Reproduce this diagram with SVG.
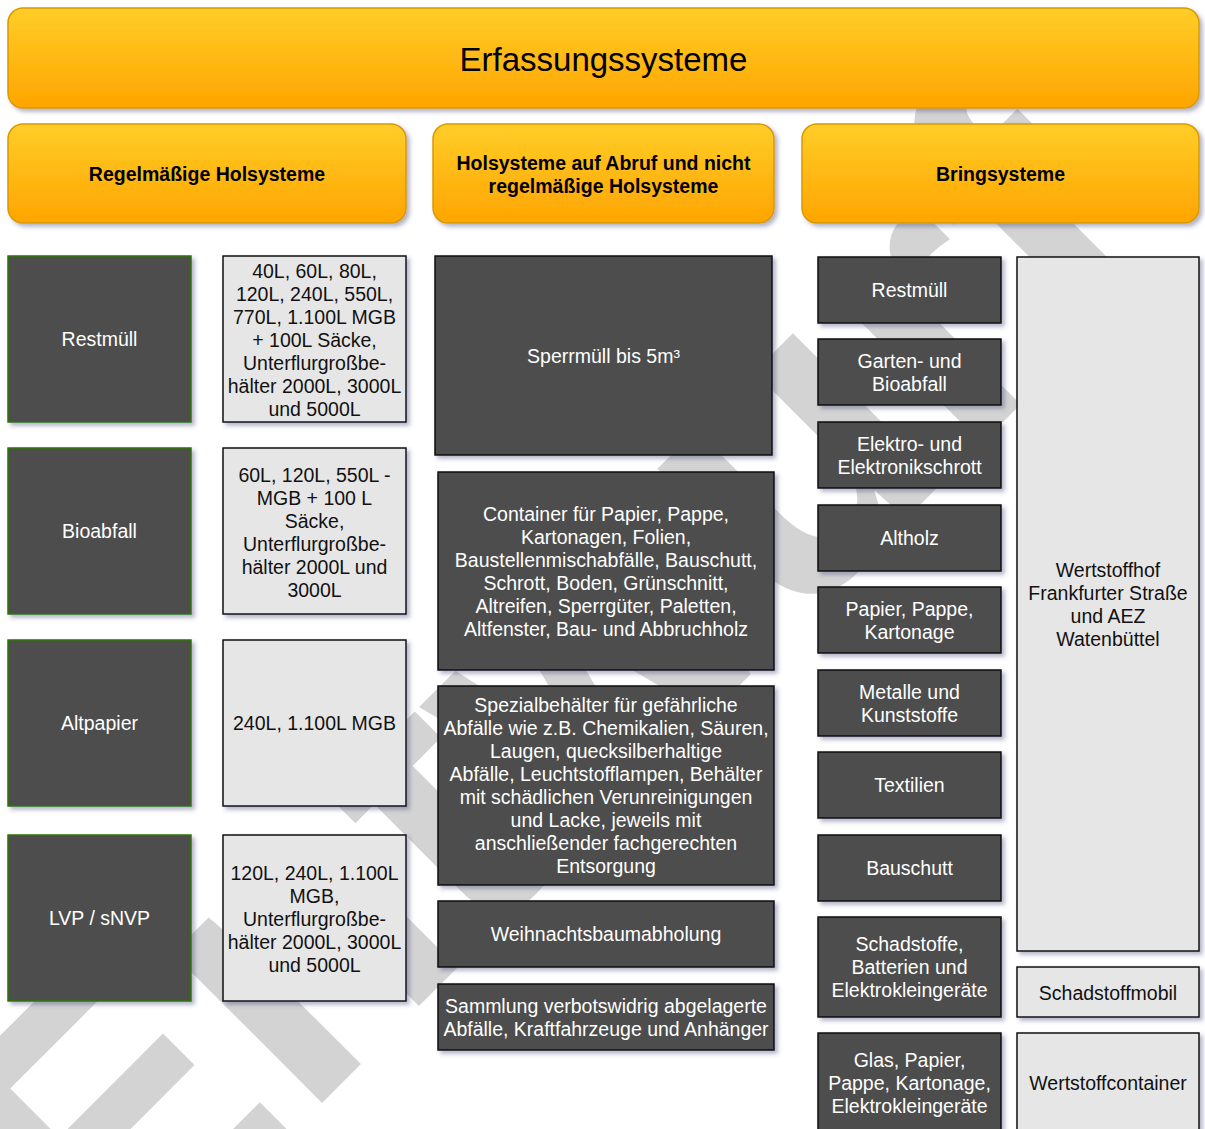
<svg xmlns="http://www.w3.org/2000/svg" width="1205" height="1129" viewBox="0 0 1205 1129">
<defs>
<linearGradient id="og" x1="0" y1="0" x2="0" y2="1">
<stop offset="0" stop-color="#ffcd28"/>
<stop offset="1" stop-color="#ffa500"/>
</linearGradient>
<filter id="sh" x="-10%" y="-10%" width="130%" height="130%">
<feDropShadow dx="3" dy="3" stdDeviation="2" flood-color="#3d4574" flood-opacity="0.4"/>
</filter>
</defs>
<style>
text{font-family:"Liberation Sans",Arial,Helvetica,sans-serif;font-size:19.5px;text-anchor:middle}
.hdr rect{fill:url(#og);stroke:#d79b00;stroke-width:1.5;filter:url(#sh)}
.hdr text{font-weight:bold;fill:#000}
.dg rect{fill:#4d4d4d;stroke:#2d7600;stroke-width:1.5;filter:url(#sh)}
.dk rect{fill:#4d4d4d;stroke:#111;stroke-width:1.5;filter:url(#sh)}
.dg text,.dk text{fill:#fff}
.lt rect{fill:#e6e6e6;stroke:#111;stroke-width:1.5;filter:url(#sh)}
.lt text{fill:#111}
.wm{font-family:"Liberation Sans",Arial,sans-serif;font-weight:bold;font-size:400px;fill:#d3d3d3;text-anchor:middle}
</style>
<text class="wm" transform="translate(640,785) rotate(-45)">Entwurf</text>
<g id="title" class="hdr"><rect x="8" y="8" width="1191" height="100" rx="15"/><text x="603.5" y="71" style="font-weight:normal;font-size:33px">Erfassungssysteme</text></g>
<g id="h1" class="hdr"><rect x="8" y="124" width="398" height="99" rx="15"/><text x="207" y="181">Regelmäßige Holsysteme</text></g>
<g id="h2" class="hdr"><rect x="433" y="124" width="341" height="99" rx="15"/><text x="603.5" y="170">Holsysteme auf Abruf und nicht</text><text x="603.5" y="193">regelmäßige Holsysteme</text></g>
<g id="h3" class="hdr"><rect x="802" y="124" width="397" height="99" rx="15"/><text x="1000.5" y="181">Bringsysteme</text></g>

<g id="l1" class="dg"><rect x="8" y="256" width="183" height="166"/><text x="99.5" y="346">Restmüll</text></g>
<g id="l2" class="dg"><rect x="8" y="448" width="183" height="166"/><text x="99.5" y="538">Bioabfall</text></g>
<g id="l3" class="dg"><rect x="8" y="640" width="183" height="166"/><text x="99.5" y="730">Altpapier</text></g>
<g id="l4" class="dg"><rect x="8" y="835" width="183" height="166"/><text x="99.5" y="925">LVP / sNVP</text></g>

<g id="c1" class="lt"><rect x="223" y="256" width="183" height="166"/>
<text x="314.5" y="277.5">40L, 60L, 80L,</text><text x="314.5" y="300.5">120L, 240L, 550L,</text><text x="314.5" y="323.5">770L, 1.100L MGB</text><text x="314.5" y="346.5">+ 100L Säcke,</text><text x="314.5" y="369.5">Unterflurgroßbe-</text><text x="314.5" y="392.5">hälter 2000L, 3000L</text><text x="314.5" y="415.5">und 5000L</text></g>
<g id="c2" class="lt"><rect x="223" y="448" width="183" height="166"/>
<text x="314.5" y="481.5">60L, 120L, 550L -</text><text x="314.5" y="504.5">MGB + 100 L</text><text x="314.5" y="527.5">Säcke,</text><text x="314.5" y="550.5">Unterflurgroßbe-</text><text x="314.5" y="573.5">hälter 2000L und</text><text x="314.5" y="596.5">3000L</text></g>
<g id="c3" class="lt"><rect x="223" y="640" width="183" height="166"/><text x="314.5" y="730">240L, 1.100L MGB</text></g>
<g id="c4" class="lt"><rect x="223" y="835" width="183" height="166"/>
<text x="314.5" y="880">120L, 240L, 1.100L</text><text x="314.5" y="903">MGB,</text><text x="314.5" y="926">Unterflurgroßbe-</text><text x="314.5" y="949">hälter 2000L, 3000L</text><text x="314.5" y="972">und 5000L</text></g>

<g id="m1" class="dk"><rect x="435" y="256" width="337" height="199"/><text x="603.5" y="363">Sperrmüll bis 5m³</text></g>
<g id="m2" class="dk"><rect x="438" y="472" width="336" height="198"/>
<text x="606" y="520.5">Container für Papier, Pappe,</text><text x="606" y="543.5">Kartonagen, Folien,</text><text x="606" y="566.5">Baustellenmischabfälle, Bauschutt,</text><text x="606" y="589.5">Schrott, Boden, Grünschnitt,</text><text x="606" y="612.5">Altreifen, Sperrgüter, Paletten,</text><text x="606" y="635.5">Altfenster, Bau- und Abbruchholz</text></g>
<g id="m3" class="dk"><rect x="438" y="686" width="336" height="199"/>
<text x="606" y="712">Spezialbehälter für gefährliche</text><text x="606" y="735">Abfälle wie z.B. Chemikalien, Säuren,</text><text x="606" y="758">Laugen, quecksilberhaltige</text><text x="606" y="781">Abfälle, Leuchtstofflampen, Behälter</text><text x="606" y="804">mit schädlichen Verunreinigungen</text><text x="606" y="827">und Lacke, jeweils mit</text><text x="606" y="850">anschließender fachgerechten</text><text x="606" y="873">Entsorgung</text></g>
<g id="m4" class="dk"><rect x="438" y="901" width="336" height="66"/><text x="606" y="941">Weihnachtsbaumabholung</text></g>
<g id="m5" class="dk"><rect x="438" y="984" width="336" height="66"/><text x="606" y="1012.5">Sammlung verbotswidrig abgelagerte</text><text x="606" y="1035.5">Abfälle, Kraftfahrzeuge und Anhänger</text></g>

<g id="r1" class="dk"><rect x="818" y="257" width="183" height="66"/><text x="909.5" y="297">Restmüll</text></g>
<g id="r2" class="dk"><rect x="818" y="339" width="183" height="66"/><text x="909.5" y="367.5">Garten- und</text><text x="909.5" y="390.5">Bioabfall</text></g>
<g id="r3" class="dk"><rect x="818" y="422" width="183" height="66"/><text x="909.5" y="450.5">Elektro- und</text><text x="909.5" y="473.5">Elektronikschrott</text></g>
<g id="r4" class="dk"><rect x="818" y="505" width="183" height="66"/><text x="909.5" y="545">Altholz</text></g>
<g id="r5" class="dk"><rect x="818" y="587" width="183" height="66"/><text x="909.5" y="615.5">Papier, Pappe,</text><text x="909.5" y="638.5">Kartonage</text></g>
<g id="r6" class="dk"><rect x="818" y="670" width="183" height="66"/><text x="909.5" y="698.5">Metalle und</text><text x="909.5" y="721.5">Kunststoffe</text></g>
<g id="r7" class="dk"><rect x="818" y="752" width="183" height="66"/><text x="909.5" y="792">Textilien</text></g>
<g id="r8" class="dk"><rect x="818" y="835" width="183" height="66"/><text x="909.5" y="875">Bauschutt</text></g>
<g id="r9" class="dk"><rect x="818" y="917" width="183" height="100"/><text x="909.5" y="951">Schadstoffe,</text><text x="909.5" y="974">Batterien und</text><text x="909.5" y="997">Elektrokleingeräte</text></g>
<g id="r10" class="dk"><rect x="818" y="1033" width="183" height="100"/><text x="909.5" y="1067">Glas, Papier,</text><text x="909.5" y="1090">Pappe, Kartonage,</text><text x="909.5" y="1113">Elektrokleingeräte</text></g>

<g id="w1" class="lt"><rect x="1017" y="257" width="182" height="694"/><text x="1108" y="577">Wertstoffhof</text><text x="1108" y="600">Frankfurter Straße</text><text x="1108" y="623">und AEZ</text><text x="1108" y="646">Watenbüttel</text></g>
<g id="w2" class="lt"><rect x="1017" y="967" width="182" height="50"/><text x="1108" y="1000">Schadstoffmobil</text></g>
<g id="w3" class="lt"><rect x="1017" y="1033" width="182" height="100"/><text x="1108" y="1090">Wertstoffcontainer</text></g>

<g id="connectors"></g>
</svg>
